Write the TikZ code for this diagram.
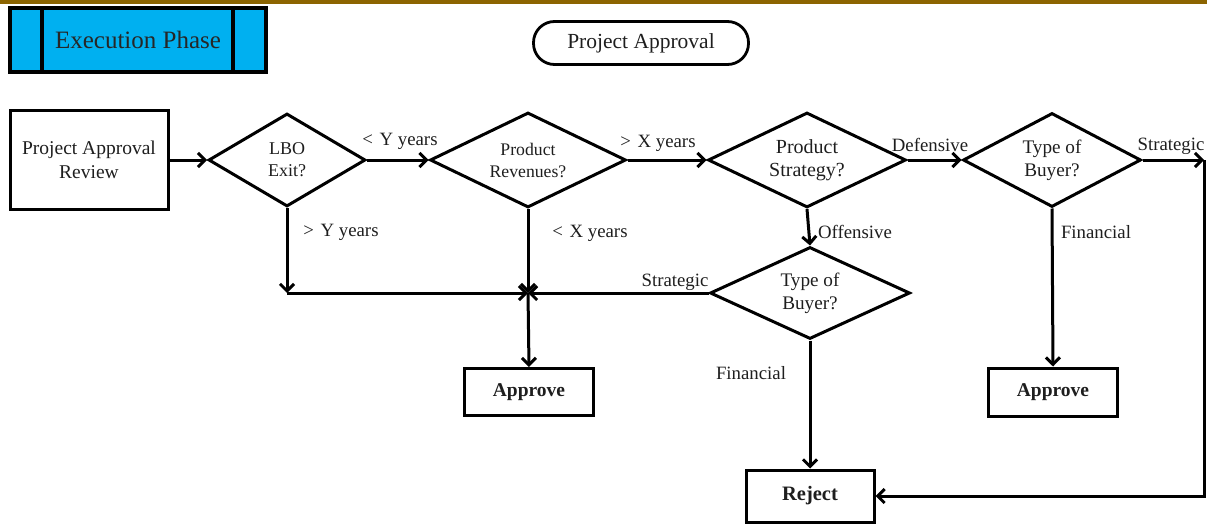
\documentclass[tikz,border=0pt]{standalone}
\usepackage{fontspec}
\setmainfont{Liberation Serif}
\usetikzlibrary{shapes.geometric,arrows.meta}
\definecolor{topbar}{RGB}{140,100,0}
\definecolor{phaseblue}{RGB}{0,176,240}
\definecolor{ink}{RGB}{30,30,30}
\tikzset{
  flow/.style={line width=3pt,-{Straight Barb[length=7pt,width=14pt]}},
  decision/.style={diamond,draw=black,line width=3pt,aspect=2,inner sep=0pt,
    align=center,text=ink,font=\fontsize{18}{22}\selectfont},
  stepbox/.style={rectangle,draw=black,line width=3pt,align=center,text=ink},
  lbl/.style={text=ink,font=\fontsize{18.8}{22}\selectfont,inner sep=0pt}
}
\newcommand{\lt}{<\hspace{0.35em}}
\newcommand{\gt}{>\hspace{0.35em}}
\begin{document}
\begin{tikzpicture}[x=1pt,y=-1pt]
\useasboundingbox (0,0) rectangle (1207,524);
% header strip
\fill[topbar] (0,0) rectangle (1207,4);

% phase tab
\node[draw=black,line width=3.2pt,fill=phaseblue,minimum width=256pt,minimum height=64pt,
  inner sep=0pt,text=black!85,font=\fontsize{25}{28}\selectfont] (phase) at (138,40) {Execution Phase};
\draw[line width=3.2pt] (42,8) -- (42,72);
\draw[line width=3.2pt] (233,8) -- (233,72);

% title
\node[draw=black,line width=2.8pt,rounded corners=21pt,minimum width=215pt,minimum height=43pt,
  inner sep=0pt,text=ink,font=\fontsize{21.5}{24}\selectfont] (title) at (641,43) {Project Approval};

% main row
\node[stepbox,minimum width=158pt,minimum height=98pt,font=\fontsize{19.5}{24}\selectfont]
  (review) at (89,160) {Project Approval\\Review};
\node[decision,minimum width=157pt,minimum height=93pt] (lbo) at (287,160) {LBO\\Exit?};
\node[decision,minimum width=196pt,minimum height=95pt,font=\fontsize{17.7}{22}\selectfont]
  (rev) at (528,160) {Product\\Revenues?};
\node[decision,minimum width=198pt,minimum height=95pt,font=\fontsize{20}{23}\selectfont]
  (strat) at (807,160) {Product\\Strategy?};
\node[decision,minimum width=178pt,minimum height=94pt,font=\fontsize{19.2}{23}\selectfont]
  (buyA) at (1052,160) {Type of\\Buyer?};
\node[decision,minimum width=200pt,minimum height=92pt,font=\fontsize{19.2}{23}\selectfont]
  (buyB) at (810,293) {Type of\\Buyer?};

% outcomes
\node[stepbox,minimum width=129pt,minimum height=47pt,font=\bfseries\fontsize{19.5}{22}\selectfont]
  (appA) at (529,392) {Approve};
\node[stepbox,minimum width=129pt,minimum height=48pt,font=\bfseries\fontsize{19.5}{22}\selectfont]
  (appB) at (1053,392) {Approve};
\node[stepbox,minimum width=128pt,minimum height=52pt,font=\bfseries\fontsize{20.5}{22}\selectfont]
  (rej) at (810,496) {Reject};

% junction points
\coordinate (jl) at (287,293);
\coordinate (jc) at (528,293);
\coordinate (jr) at (1204,160);

% connectors
\draw[flow] (review.east) -- (lbo.west);
\draw[flow] (lbo.east) -- (rev.west);
\draw[flow] (rev.east) -- (strat.west);
\draw[flow] (strat.east) -- (buyA.west);
\draw[flow] (buyA.east) -- (jr);
\draw[flow] (jr) |- (rej.east);
\draw[flow] (strat.south) -- (buyB.north);
\draw[flow] (lbo.south) -- (jl);
\draw[flow] (jl) -- (jc);
\draw[flow] (rev.south) -- (jc);
\draw[flow] (buyB.west) -- (jc);
\draw[flow] (jc) -- (appA.north);
\draw[flow] (buyB.south) -- (rej.north);
\draw[flow] (buyA.south) -- (appB.north);

% branch labels
\node[lbl] (l1) at (400,141) {\lt Y years};
\node[lbl] (l2) at (341,232) {\gt Y years};
\node[lbl] (l3) at (658,143) {\gt X years};
\node[lbl] (l4) at (590,233) {\lt X years};
\node[lbl] (l5) at (930,145) {Defensive};
\node[lbl] (l6) at (1171,146) {Strategic};
\node[lbl] (l7) at (855,232) {Offensive};
\node[lbl] (l8) at (1096,232) {Financial};
\node[lbl] (l9) at (675,282) {Strategic};
\node[lbl] (l10) at (751,373) {Financial};
\end{tikzpicture}
\end{document}
